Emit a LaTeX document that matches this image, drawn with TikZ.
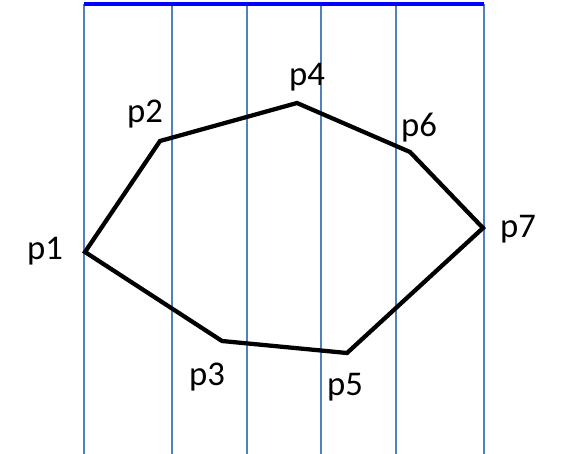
\documentclass[tikz,border=0pt]{standalone}
\usepackage{fontspec}
\setmainfont{Carlito}
\usepackage{tikz}
\usetikzlibrary{calc, positioning}
\definecolor{gridblue}{RGB}{79,129,189}

\begin{document}
\begin{tikzpicture}[x=0.75pt, y=-0.75pt]
	\tikzstyle{grid} = [gridblue, line width=1.1pt]
	\tikzstyle{topline} = [blue, line width=3pt]
	\tikzstyle{outline} = [black, line width=3.2pt, line join=miter]
	\tikzstyle{label} = [inner sep=0pt, font=\fontsize{26}{30}\selectfont]

	\useasboundingbox (0,0) rectangle (562,454);

	% vertical lines
	\foreach \i/\x in {1/84, 2/172, 3/247, 4/321, 5/396, 6/484} {
		\coordinate (t\i) at (\x,4);
		\coordinate (b\i) at (\x,454);
		\draw[grid] (t\i) -- (b\i);
	}
	\draw[topline] (t1) -- (t6);

	% polygon corners
	\coordinate (P1) at (85,252);
	\coordinate (P2) at (160,141);
	\coordinate (P4) at (297,103);
	\coordinate (P6) at (410,152);
	\coordinate (P7) at (483,228);
	\coordinate (P5) at (347,353);
	\coordinate (P3) at (222,341);

	\draw[outline] (P1) -- (P2) -- (P4) -- (P6) -- (P7) -- (P5) -- (P3) -- cycle;

	\node[label] (l1) at (45,251) {p1};
	\node[label] (l2) at (145,114) {p2};
	\node[label] (l3) at (207,377) {p3};
	\node[label] (l4) at (307,77) {p4};
	\node[label] (l5) at (345,387) {p5};
	\node[label] (l6) at (419,128) {p6};
	\node[label] (l7) at (518,229) {p7};
\end{tikzpicture}
\end{document}
